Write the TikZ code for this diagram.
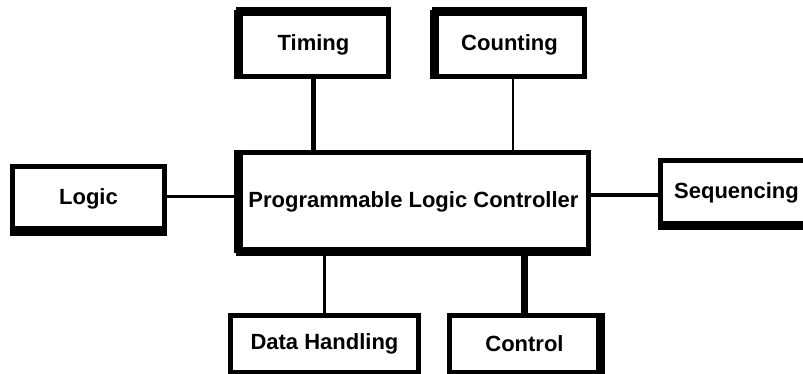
\documentclass[tikz,border=0pt]{standalone}
\usepackage{fontspec}
\setmainfont{Liberation Sans}
\usetikzlibrary{positioning}
\tikzset{
  blk/.style={draw,line width=5pt,rectangle,inner sep=0pt,font=\bfseries\fontsize{22}{26}\selectfont},
  hv/.style={line width=9pt},
  link/.style={line width=#1}
}
\begin{document}
\begin{tikzpicture}[x=1pt,y=-1pt]
\useasboundingbox (0,0) rectangle (803,374);
\clip (0,0) rectangle (803,374);
\node[blk,minimum width=350pt,minimum height=98pt] (plc) at (413.5,201.5) {Programmable Logic Controller};
\node[blk,minimum width=150pt,minimum height=64pt] (timing) at (313.5,44.5) {Timing};
\node[blk,minimum width=150pt,minimum height=64pt] (counting) at (509.5,44.5) {Counting};
\node[blk,minimum width=152pt,minimum height=64pt] (logic) at (88.5,198.5) {Logic};
\node[blk,minimum width=152pt,minimum height=65pt] (seq) at (736.5,193) {Sequencing};
\node[blk,minimum width=188pt,minimum height=57pt] (data) at (324.5,344) {Data Handling};
\node[blk,minimum width=150pt,minimum height=57pt] (control) at (524.5,344) {Control};
\foreach \n/\a/\b/\dx/\dy in {timing/north west/north east/0/-2,timing/north west/south west/2/0,counting/north west/north east/0/-2,counting/north west/south west/2/0,plc/north west/south west/2/0,plc/south west/south east/0/2,logic/south west/south east/0/2,seq/south west/south east/0/2,control/north east/south east/-2/0}{\draw[hv] ([xshift=\dx pt,yshift=\dy pt]\n.\a)--([xshift=\dx pt,yshift=\dy pt]\n.\b);}
\draw[link=5pt] (timing.south)--(timing.south |- plc.north);
\draw[link=2pt] ([xshift=3pt]counting.south)--([xshift=3pt]counting.south |- plc.north);
\draw[link=3.5pt] ([yshift=2pt]logic.east)--([yshift=2pt]logic.east -| plc.west);
\draw[link=3.5pt] ([yshift=-2pt]seq.west)--([yshift=-2pt]seq.west -| plc.east);
\draw[link=3.5pt] (data.north)--(data.north |- plc.south);
\draw[link=7pt] (control.north)--(control.north |- plc.south);
\end{tikzpicture}
\end{document}
